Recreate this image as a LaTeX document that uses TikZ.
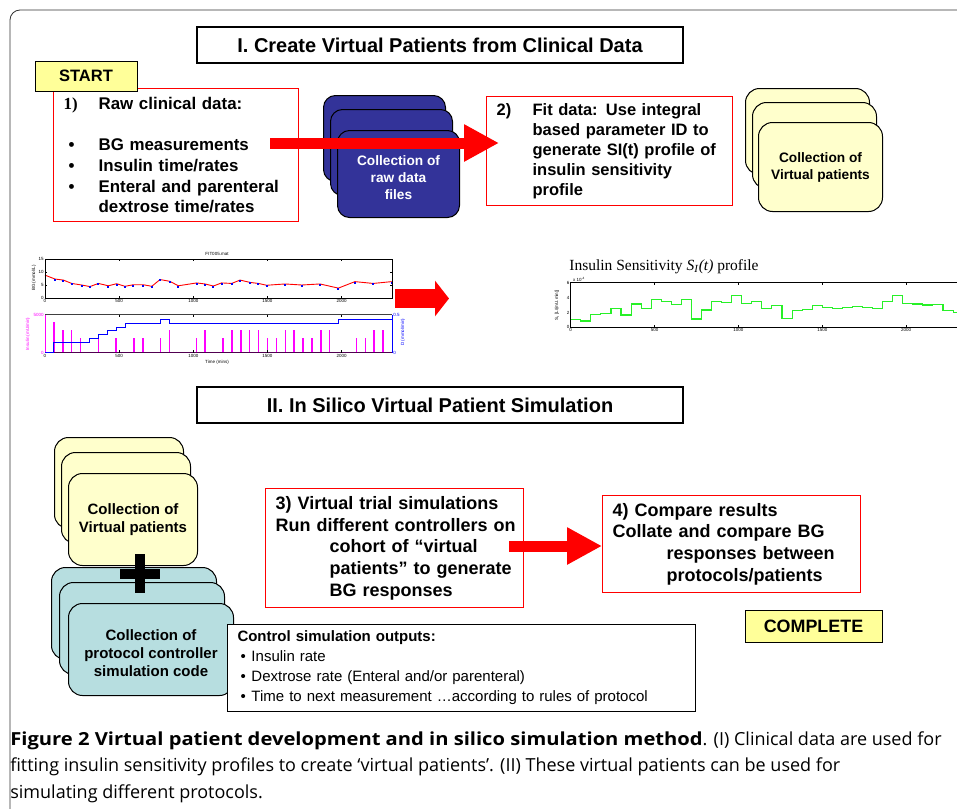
\documentclass[tikz,border=0pt]{standalone}
\usepackage{fontspec}
\setmainfont{Liberation Sans}
\newfontfamily\timesfont{Liberation Serif}
\newfontfamily\capfont[BoldFeatures={FakeStretch=1.12}]{Open Sans}
\usetikzlibrary{arrows.meta,positioning}

\definecolor{cardblue}{RGB}{51,51,153}
\definecolor{cardyellow}{RGB}{255,255,204}
\definecolor{flagyellow}{RGB}{255,255,153}
\definecolor{cardteal}{RGB}{183,222,224}
\definecolor{sigreen}{RGB}{40,240,40}
\definecolor{insmagenta}{RGB}{255,0,255}
\definecolor{darkplum}{RGB}{80,0,80}

% measured BG (time in min / mmol/L)
\newcommand\bgpoints{67/7.3,124/6.9,180/5.6,247/5.0,303/4.4,360/5.6,427/4.7,483/5.5,539/4.5,596/5.1,663/5.1,720/4.5,776/7.1,843/6.4,899/4.7,1023/5.8,1079/5.4,1135/4.6,1191/5.8,1259/5.6,1315/6.9,1383/6.0,1439/5.6,1495/4.9,1618/5.4,1731/5.0,1854/5.4,1978/3.8,2090/6.3,2213/5.6,2338/6.3}

\begin{document}
\begin{tikzpicture}[x=1pt,y=-1pt,semithick]
  \tikzstyle{titlebox}=[draw=black,line width=1.3pt,fill=white,minimum width=486pt,minimum height=36pt,font=\fontsize{20}{24}\selectfont\bfseries]
  \tikzstyle{stepbox}=[draw=red,line width=1.2pt,fill=white,align=left,inner xsep=10pt,anchor=north west,font=\fontsize{16.9}{20.7}\selectfont\bfseries]
  \tikzstyle{flag}=[draw=black,line width=1pt,fill=flagyellow,font=\bfseries]
  \tikzstyle{card}=[draw=black,line width=1pt,rounded corners=12pt,anchor=north west,align=center,font=\bfseries]
  \tikzstyle{bigarrow}=[red,line width=11pt,-{Triangle[length=35pt,width=35pt]}]
  \tikzstyle{tiny}=[font=\fontsize{4.5}{5}\selectfont,inner sep=1pt]
  \tikzstyle{bgdot}=[fill=blue,inner sep=0pt,minimum size=2pt]

  \useasboundingbox (0,0) rectangle (957,808);
  \draw[black!80,line width=0.8pt,rounded corners=10pt] (960,10) -- (10,10) -- (10,810);

  %%% I. virtual patients from clinical data
  \node[titlebox] (titleI) at (440,45) {I. Create Virtual Patients from Clinical Data};

  \node[stepbox,minimum width=245pt,minimum height=133pt,text width=225pt] (raw) at (53,88)
    {\makebox[35pt][l]{\timesfont 1)}Raw clinical data:\\[20.7pt]
     \makebox[35pt][l]{\hspace{5pt}\textbullet}BG measurements\\
     \makebox[35pt][l]{\hspace{5pt}\textbullet}Insulin time/rates\\
     \makebox[35pt][l]{\hspace{5pt}\textbullet}Enteral and parenteral\\
     \hspace*{35pt}dextrose time/rates};
  \node[flag,minimum width=102pt,minimum height=30pt,font=\fontsize{16.5}{18}\selectfont\bfseries] (start) at (86,76) {START};

  \node[card,fill=cardblue,minimum width=122pt,minimum height=86pt] (file1) at (323,95) {};
  \node[card,fill=cardblue,minimum width=122pt,minimum height=86pt] (file2) at ([shift={(7,14)}]file1.north west) {};
  \node[card,fill=cardblue,minimum width=122pt,minimum height=87pt,text=white,font=\fontsize{13.7}{17}\selectfont\bfseries] (file3) at ([shift={(7,21)}]file2.north west) {\\Collection of\\ raw data\\ files};

  \node[stepbox,minimum width=246pt,minimum height=109pt,text width=226pt,font=\fontsize{16.5}{20}\selectfont\bfseries] (fit) at (486,96)
    {\makebox[36pt][l]{2)}Fit data: Use integral\\
     \hspace*{36pt}based parameter ID to\\
     \hspace*{36pt}generate SI(t) profile of\\
     \hspace*{36pt}insulin sensitivity\\
     \hspace*{36pt}profile};

  \node[card,fill=cardyellow,minimum width=124pt,minimum height=86pt,rounded corners=14pt] (vpa1) at (745,88) {};
  \node[card,fill=cardyellow,minimum width=124pt,minimum height=86pt,rounded corners=14pt] (vpa2) at ([shift={(7,14)}]vpa1.north west) {};
  \node[card,fill=cardyellow,minimum width=124pt,minimum height=89pt,rounded corners=14pt,font=\fontsize{13.7}{17}\selectfont\bfseries] (vpa3) at ([shift={(6,20)}]vpa2.north west) {Collection of\\ Virtual patients};

  \coordinate (a1) at (270,143);
  \coordinate (a1e) at (a1 -| fit.west);
  \draw[bigarrow] (a1) -- ([xshift=13pt]a1e);

  %%% raw data plot
  \node[tiny] (bgtitle) at (217,254) {FIT005.mat};
  \begin{scope}[shift={(45,298)},xscale=0.1483,yscale=-2.6]
    \draw[red,line width=0.9pt] (0,8.8) \foreach \t/\g in \bgpoints { -- (\t,\g) };
    \foreach \t/\g in \bgpoints \node[bgdot] at (\t,\g-0.35) {};
    \draw[line width=0.9pt] (0,0) rectangle (2340,15);
    \foreach \t in {500,1000,1500,2000} {
      \draw (\t,0) -- (\t,0.8) (\t,15) -- (\t,14.2);
      \node[tiny,below] at (\t,0) {\t};
    }
    \foreach \g in {5,10} \draw (0,\g) -- (15,\g) (2340,\g) -- (2325,\g);
    \node[tiny,below] at (0,0) {0};
    \foreach \g in {0,5,10,15} \node[tiny,left] at (0,\g) {\g};
  \end{scope}
  \node[tiny,rotate=90] (bglabel) at (34,278) {BG (mmol/L)};

  \begin{scope}[shift={(45,352.7)},xscale=0.1483,yscale=-0.0076]
    \foreach \t/\u in {60/4000,120/3000,180/3000,240/2000,360/2000,480/2000,600/2000,660/2000,780/2000,840/3000,1020/2000,1080/3000,1200/2000,1260/3000,1320/3000,1380/3000,1440/3000,1500/2000,1560/2000,1620/3000,1680/3000,1740/2000,1800/2000,1860/3000,1920/3000,2100/2000,2160/2000,2220/3000,2280/3000}
      \draw[insmagenta,line width=1.5pt] (\t,0) -- (\t,\u);
    \draw[black!75,line width=1.4pt] (0,5000) -- (2340,5000);
    \draw[darkplum,line width=1.4pt] (0,0) -- (2340,0);
    \draw[insmagenta,line width=1pt] (0,0) -- (0,5000);
    \foreach \t in {500,1000,1500,2000} {
      \draw (\t,0) -- (\t,300) (\t,5000) -- (\t,4700);
      \node[tiny,below] at (\t,0) {\t};
    }
    \node[tiny,below] at (0,0) {0};
    \node[tiny,left,text=insmagenta] at (0,0) {0};
    \node[tiny,left,text=insmagenta] at (0,5000) {5000};
  \end{scope}
  \begin{scope}[shift={(45,352.7)},xscale=0.1483,yscale=-76]
    \draw[blue,line width=1pt] (0,0) -| (60,0.14) -| (300,0.19) -| (360,0.24) -| (420,0.29) -| (480,0.33) -| (540,0.39) -| (780,0.44) -| (840,0.39) -| (1980,0.44) -| (2340,0);
    \draw[blue,line width=1pt] (2340,0) -- (2340,0.5);
    \node[tiny,right,text=blue] at (2340,0) {0};
    \node[tiny,right,text=blue] at (2340,0.5) {0.5};
  \end{scope}
  \node[tiny,rotate=90,text=insmagenta] (inslabel) at (28,334) {Insulin (mU/min)};
  \node[tiny,rotate=90,text=blue] (dlabel) at (403,332) {D (mmol/min)};
  \node[tiny] (timelabel) at (217,362) {Time (mins)};

  \coordinate (a2s) at (395,298.5);
  \coordinate (a2e) at (449,298.5);
  \draw[red,line width=19pt,-{Triangle[length=14pt,width=35pt]}] (a2s) -- (a2e);

  %%% insulin sensitivity profile
  \node[font=\timesfont\fontsize{15.5}{18}\selectfont] (sititle) at (664,267)
    {Insulin Sensitivity \textit{S}\textsubscript{\textit{I}}\textit{(t)} profile};
  \begin{scope}[shift={(570.7,327.3)},xscale=0.1677,yscale=-7.43]
    \draw[sigreen,line width=1.1pt] (0,1.07) \foreach \v [count=\i] in {1.07,0.85,1.7,1.88,2.55,1.66,3.13,2.55,3.72,3.5,3.09,3.72,1.12,2.33,3.5,3.36,4.3,3.22,3.45,2.55,2.91,1.16,2.28,2.37,2.91,2.64,2.55,2.64,2.78,2.64,2.55,3.45,4.3,3.18,3.13,3.0,3.09,2.24,1.97} { |- (\i*60,\v) };
    \draw[line width=1pt] (2400,0) -- (0,0) -- (0,6) -- (2400,6);
    \foreach \t in {500,1000,1500,2000} {
      \draw (\t,0) -- (\t,0.3) (\t,6) -- (\t,5.7);
      \node[tiny,below] at (\t,0) {\t};
    }
    \node[tiny,below] at (0,0) {0};
    \foreach \v in {0,2,4,6} \node[tiny,left] at (0,\v) {\v};
  \end{scope}
  \node[tiny] (siscale) at (579,279) {x 10\textsuperscript{-4}};
  \node[tiny,rotate=90] (silabel) at (557,305) {S\textsubscript{I} [L/(mU.min)]};

  %%% II. in silico simulation
  \node[titlebox] (titleII) at (440,405) {II. In Silico Virtual Patient Simulation};

  \node[card,fill=cardyellow,minimum width=129pt,minimum height=91pt,rounded corners=14pt] (vpb1) at (54,437) {};
  \node[card,fill=cardyellow,minimum width=129pt,minimum height=91pt,rounded corners=14pt] (vpb2) at ([shift={(7,15)}]vpb1.north west) {};
  \node[card,fill=cardyellow,minimum width=129pt,minimum height=92pt,rounded corners=14pt,font=\fontsize{15}{18}\selectfont\bfseries] (vpb3) at ([shift={(7,21)}]vpb2.north west) {Collection of\\ Virtual patients};

  \node[card,fill=cardteal,minimum width=165pt,minimum height=92pt,rounded corners=14pt] (proto1) at (51,567) {};
  \node[card,fill=cardteal,minimum width=165pt,minimum height=92pt,rounded corners=14pt] (proto2) at ([shift={(8,15)}]proto1.north west) {};
  \node[card,fill=cardteal,minimum width=165pt,minimum height=92pt,rounded corners=14pt,font=\fontsize{15}{18}\selectfont\bfseries] (proto3) at ([shift={(9,21)}]proto2.north west) {\\Collection of\\ protocol controller\\ simulation code};

  \draw[line width=10pt] (140,554) -- (140,593) (120,573.5) -- (160,573.5);

  \node[stepbox,minimum width=258pt,minimum height=119pt,text width=238pt,font=\fontsize{18}{21.7}\selectfont\bfseries] (trial) at (265,488)
    {\mbox{3) Virtual trial simulations}\\
     \mbox{Run different controllers on}\\
     \hspace*{54pt}cohort of “virtual\\
     \hspace*{54pt}patients” to generate\\
     \hspace*{54pt}BG responses};

  \node[stepbox,minimum width=258pt,minimum height=97pt,text width=238pt,font=\fontsize{18}{21.7}\selectfont\bfseries] (res) at (602,495)
    {4) Compare results\\
     Collate and compare BG\\
     \hspace*{54pt}responses between\\
     \hspace*{54pt}protocols/patients};

  \coordinate (a3) at (509,546);
  \draw[bigarrow] (a3) -- (a3 -| res.west);

  \node[draw=black,line width=1pt,fill=white,anchor=north west,align=left,minimum width=468pt,minimum height=87pt,text width=448pt,font=\fontsize{15}{20}\selectfont] (outputs) at (227,624)
    {\textbf{Control simulation outputs:}\\
     \makebox[14pt][l]{\hspace{3pt}\textbullet}Insulin rate\\
     \makebox[14pt][l]{\hspace{3pt}\textbullet}Dextrose rate (Enteral and/or parenteral)\\
     \makebox[14pt][l]{\hspace{3pt}\textbullet}Time to next measurement …according to rules of protocol};

  \node[flag,minimum width=137pt,minimum height=32pt,font=\fontsize{17.9}{20}\selectfont\bfseries] (complete) at (813.5,626) {COMPLETE};

  %%% caption
  \node[anchor=north west,align=left,inner sep=0pt,font=\capfont\fontsize{18}{26.5}\selectfont] (caption) at (10,731)
    {\textbf{Figure 2 Virtual patient development and in silico simulation method}. (I) Clinical data are used for\\
     fitting insulin sensitivity profiles to create ‘virtual patients’. (II) These virtual patients can be used for\\
     simulating different protocols.};
\end{tikzpicture}
\end{document}
